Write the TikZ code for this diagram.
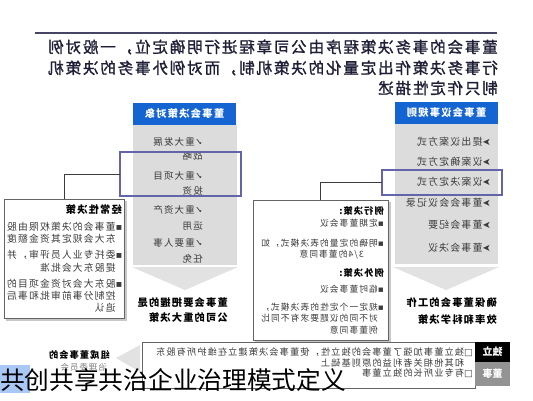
\documentclass[tikz,border=0pt]{standalone}
\usepackage{fontspec}
\usepackage{graphicx}
\newfontfamily\cjk{Noto Sans CJK SC}
\newfontfamily\cjks[LetterSpace=12]{Noto Sans CJK SC}
\newfontfamily\cjkm[LetterSpace=12,FakeBold=1.3]{Noto Sans CJK SC}
\newfontfamily\sym{DejaVu Sans}
\newcommand\mr[1]{\reflectbox{#1}}
\newcommand\fs[1]{\fontsize{#1}{#1}\selectfont}
\newcommand\ck{{\sym ✓}}
\newcommand\arw{{\sym ➤}}
\newcommand\bu{{\sym ▪}}
\newcommand\sq{{\sym □}}
\definecolor{blueH}{RGB}{20,100,210}
\definecolor{greyC}{RGB}{220,220,220}
\definecolor{arrowC}{RGB}{226,226,226}
\definecolor{hlC}{RGB}{100,100,170}
\definecolor{ruleC}{RGB}{70,70,100}
\definecolor{titleC}{RGB}{30,30,55}
\definecolor{textG}{RGB}{60,60,60}
\definecolor{boxC}{RGB}{100,100,100}
\definecolor{shadC}{RGB}{200,200,200}
\definecolor{capBlue}{RGB}{170,200,245}
\begin{document}
\begin{tikzpicture}[x=1pt,y=-1pt,
  ln/.style={inner sep=0pt,anchor=east},
  rect/.style={inner sep=0pt,outer sep=0pt},
  frame/.style={rect,draw=boxC,line width=0.8pt,fill=white},
  hilite/.style={rect,draw=hlC,line width=1.5pt},
  conn/.style={draw=textG,line width=0.8pt},
  ttl/.style={ln,font=\cjkm\fs{15.5},text=titleC},
  hdr/.style={rect,fill=blueH,text=white,font=\cjks\bfseries\fs{10.3}},
  itemL/.style={ln,font=\cjks\fs{9.5},text=textG},
  itemR/.style={ln,font=\cjks\fs{9.9},text=textG},
  boxt/.style={ln,font=\cjks\fs{9.8},text=textG},
  boxh/.style={ln,font=\cjks\bfseries\fs{10.2},text=black},
  midt/.style={ln,font=\cjks\fs{8.75},text=textG},
  midh/.style={ln,font=\cjks\bfseries\fs{9.2},text=black},
  concl/.style={ln,font=\cjks\bfseries\fs{10.2},text=black},
  bott/.style={ln,font=\cjks\fs{9.2},text=textG}]
\useasboundingbox (0,0) rectangle (533,400);
\fill[white] (0,0) rectangle (533,400);

% top rule
\draw[ruleC,line width=2pt] (35,33) -- (497,33);

% title
\node[ttl] (t1) at (498,47) {\mr{董事会的事务决策程序由公司章程进行明确定位，一般对例}};
\node[ttl] (t2) at (498,68) {\mr{行事务决策作出定量化的决策机制，而对例外事务的决策机}};
\node[ttl] (t3) at (498,88) {\mr{制只作定性描述}};

% left column
\node[rect,fill=greyC,minimum width=104pt,minimum height=140pt] (colL) at (185,195) {};
\node[hdr,minimum width=103pt,minimum height=22pt] (hdrL) at (184.5,114) {\mr{董事会决策对象}};
\fill[arrowC] (132,267) -- (238,267) -- (185,290) -- cycle;

% right column
\node[rect,fill=greyC,minimum width=103pt,minimum height=140pt] (colR) at (446.5,194) {};
\node[hdr,minimum width=103pt,minimum height=22pt] (hdrR) at (446.5,113) {\mr{董事会议事规则}};
\fill[arrowC] (393,267) -- (499,267) -- (446,290) -- cycle;

% left items
\node[itemL] (l1a) at (203,142) {\mr{\ck 重大发展}};
\node[itemL] (l1b) at (203,156) {\mr{战略}};
\node[itemL] (l2a) at (203,176) {\mr{\ck 重大项目}};
\node[itemL] (l2b) at (203,191) {\mr{投资}};
\node[itemL] (l3a) at (203,210) {\mr{\ck 重大资产}};
\node[itemL] (l3b) at (203,226) {\mr{运用}};
\node[itemL] (l4a) at (203,243) {\mr{\ck 重要人事}};
\node[itemL] (l4b) at (203,259) {\mr{任免}};

% right items
\node[itemR] (r1) at (491,142) {\mr{\arw 提出议案方式}};
\node[itemR] (r2) at (491,162) {\mr{\arw 议案确定方式}};
\node[itemR] (r3) at (491,182) {\mr{\arw 议案决定方式}};
\node[itemR] (r4) at (491,203) {\mr{\arw 董事会会议记录}};
\node[itemR] (r5) at (491,225) {\mr{\arw 董事会纪要}};
\node[itemR] (r6) at (491,248) {\mr{\arw 董事会决议}};

% highlight frames
\node[hilite,minimum width=121pt,minimum height=44pt] (hlL) at (180.5,174) {};
\node[hilite,minimum width=120pt,minimum height=25pt] (hlR) at (442,182.5) {};

% left box
\fill[shadC] (6,201) rectangle (126.5,320.5);
\node[frame,minimum width=120pt,minimum height=119pt] (boxL) at (64,258.5) {};
\node[boxh] (b0) at (122,210) {\mr{经常性决策}};
\node[boxt] (b1) at (122.5,227) {\mr{\bu 董事会的决策权限由股}};
\node[boxt] (b2) at (122.5,239) {\mr{\phantom{\bu}东大会规定其资金额度}};
\node[boxt] (b3) at (122.5,255) {\mr{\bu 委托专业人员评审，并}};
\node[boxt] (b4) at (122.5,268) {\mr{\phantom{\bu}提股东大会批准}};
\node[boxt] (b5) at (122.5,284) {\mr{\bu 股东大会对资金项目的}};
\node[boxt] (b6) at (122.5,296) {\mr{\phantom{\bu}控制分事前审批和事后}};
\node[boxt] (b7) at (122.5,308) {\mr{\phantom{\bu}追认}};

% middle box
\fill[shadC] (255,202) rectangle (390.5,342.5);
\node[frame,minimum width=135pt,minimum height=140pt] (boxM) at (320.5,270) {};
\node[midh] (m0) at (384,211) {\mr{例行决策:}};
\node[midt] (m1) at (384,223) {\mr{\bu 定期董事会议}};
\node[midt] (m2) at (384,243) {\mr{\bu 明确的定量的表决模式，如}};
\node[midt] (m3) at (364,255) {\mr{3/4的董事同意}};
\node[midh] (m4) at (384,273) {\mr{例外决策:}};
\node[midt] (m5) at (384,289) {\mr{\bu 临时董事会议}};
\node[midt] (m6) at (384,307) {\mr{\bu 规定一个定性的表决模式，}};
\node[midt] (m7) at (384,318) {\mr{\phantom{\bu}对不同的议题要求有不同比}};
\node[midt] (m8) at (384,330) {\mr{\phantom{\bu}例董事同意}};

% connectors
\draw[conn] (hlL.west) -| (boxL.north);
\draw[conn] (hlR.west) -| (boxM.north);

% conclusions
\node[concl] (c1) at (228,303) {\mr{董事会要把握的是}};
\node[concl] (c2) at (228,318) {\mr{公司的重大决策}};
\node[concl] (c3) at (497,303) {\mr{确保董事会的工作}};
\node[concl] (c4) at (497,320) {\mr{效率和科学决策}};

% bottom section
\node[frame,minimum width=333pt,minimum height=46pt] (boxB) at (308.5,365) {};
\node[rect,fill=black,minimum width=35pt,minimum height=20pt,text=white,font=\cjk\bfseries\fs{10}] (indA) at (492.5,352) {\mr{独立}};
\node[rect,fill=gray!85,minimum width=35pt,minimum height=24pt,text=white,font=\cjk\bfseries\fs{10}] (indB) at (492.5,374) {\mr{董事}};
\node[bott] (x1) at (473,352) {\mr{\sq 独立董事加强了董事会的独立性，使董事会决策建立在维护所有股东}};
\node[bott] (x2) at (473,363) {\mr{\phantom{\sq}和其他相关者利益的原则基础上}};
\node[bott] (x3) at (473,373) {\mr{\sq 有专业所长的独立董事}};
\fill[arrowC] (140,345) -- (140,372) -- (116,358) -- cycle;
\node[ln,font=\cjks\bfseries\fs{9.2},text=black] (g1) at (110,355) {\mr{组成董事会的}};
\node[ln,font=\cjks\fs{8.4},text=gray] (g2) at (107,367) {\mr{治理委员会}};

% caption overlay
\fill[capBlue] (0,365) rectangle (30,393);
\node[inner sep=0pt,anchor=west,font=\cjk\fs{24.7},text=black] (cap) at (0,380) {共创共享共治企业治理模式定义};
\end{tikzpicture}
\end{document}
